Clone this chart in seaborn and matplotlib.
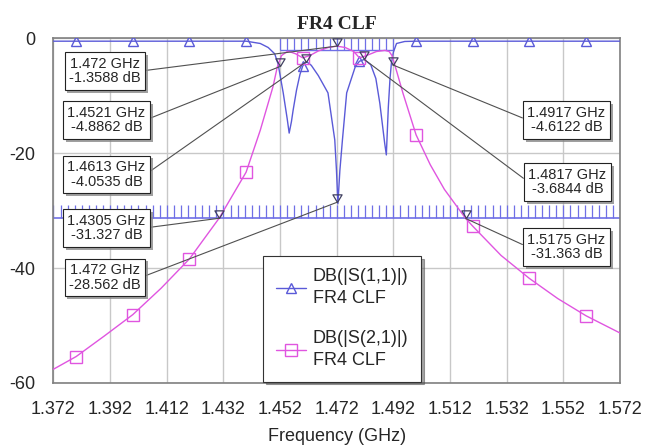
import numpy as np
import matplotlib
matplotlib.use("Agg")
import matplotlib.pyplot as plt
import matplotlib.patheffects as pe
from matplotlib.path import Path
import seaborn as sns

# ---------------- data ----------------
freq_s11 = [1.372, 1.380, 1.400, 1.420, 1.440, 1.4450, 1.4478, 1.4501, 1.4513, 1.4522,
            1.4531, 1.4545, 1.4552, 1.4560, 1.4566, 1.4578, 1.4590, 1.4600, 1.4613, 1.4630,
            1.4655, 1.4689, 1.4713, 1.4719, 1.4724, 1.4731, 1.4740, 1.4755, 1.4785, 1.4800,
            1.4817, 1.4840, 1.4858, 1.4872, 1.4889, 1.4895, 1.4902, 1.4908, 1.4913, 1.4920,
            1.4931, 1.4960, 1.500, 1.520, 1.540, 1.560, 1.572]
db_s11 = [-0.5, -0.5, -0.5, -0.5, -0.5, -0.9, -1.6, -2.7, -4.5, -7.0,
          -9.5, -14.0, -16.5, -14.5, -12.5, -9.0, -6.3, -4.8, -4.05, -4.7,
          -6.5, -9.5, -17.7, -23.0, -28.8, -23.0, -17.7, -9.5, -5.0, -4.0,
          -3.68, -4.6, -7.0, -11.3, -18.2, -20.3, -12.0, -7.0, -4.3, -2.4,
          -0.9, -0.55, -0.5, -0.5, -0.5, -0.5, -0.5]

freq_s21 = [1.372, 1.380, 1.390, 1.400, 1.410, 1.420, 1.4305, 1.440, 1.445, 1.4495,
            1.4510, 1.4525, 1.4545, 1.4552, 1.4575, 1.4600, 1.4625, 1.4655, 1.4690, 1.4720,
            1.4750, 1.4780, 1.4800, 1.4825, 1.4860, 1.4890, 1.4905, 1.4915, 1.4930, 1.4954,
            1.500, 1.505, 1.510, 1.5175, 1.520, 1.530, 1.540, 1.550, 1.560, 1.572]
db_s21 = [-57.6, -55.4, -51.8, -48.1, -43.5, -38.4, -31.3, -23.3, -16.0, -8.4,
          -5.0, -3.0, -2.3, -2.3, -2.7, -3.4, -3.0, -2.2, -1.6, -1.36,
          -1.6, -2.3, -3.4, -3.0, -2.3, -2.1, -2.3, -3.0, -5.5, -9.6,
          -16.8, -22.0, -26.3, -31.36, -32.7, -37.8, -41.8, -45.3, -48.3, -51.3]

marker_freqs = [1.38, 1.40, 1.42, 1.44, 1.46, 1.48, 1.50, 1.52, 1.54, 1.56]

series_names = ["DB(|S(1,1)|)\nFR4 CLF", "DB(|S(2,1)|)\nFR4 CLF"]

ann_freq = [1.472, 1.4521, 1.4613, 1.4305, 1.472, 1.4917, 1.4817, 1.5175]
ann_db = [-1.3588, -4.8862, -4.0535, -31.327, -28.562, -4.6122, -3.6844, -31.363]
ann_labels = ["1.472 GHz\n-1.3588 dB", "1.4521 GHz\n-4.8862 dB", "1.4613 GHz\n-4.0535 dB",
              "1.4305 GHz\n-31.327 dB", "1.472 GHz\n-28.562 dB", "1.4917 GHz\n-4.6122 dB",
              "1.4817 GHz\n-3.6844 dB", "1.5175 GHz\n-31.363 dB"]

passband_mask = [1.452, 1.492, -2.0]      # f_start, f_stop, level (dB)
stopband_mask = [1.372, 1.572, -31.35]    # f_start, f_stop, level (dB)

x_ticks = [1.372, 1.392, 1.412, 1.432, 1.452, 1.472, 1.492, 1.512, 1.532, 1.552, 1.572]
y_ticks = [0, -20, -40, -60]

# ---------------- style ----------------
sns.set_style("white")
plt.rcParams["font.family"] = ["Liberation Sans", "DejaVu Sans"]

c_s11 = "#5a5ad8"
c_s21 = "#e055e0"
c_mask = "#6f6fe6"

fig = plt.figure(figsize=(6.46, 4.46), dpi=100)
ax = fig.add_axes([0.0828, 0.1413, 0.8770, 0.7728])


def mark_idx(freqs):
    return [i for i, f in enumerate(freqs) if any(abs(f - m) < 1e-6 for m in marker_freqs)]


# masks
step = 0.0025
pb_x = np.arange(passband_mask[0], passband_mask[1] + 1e-9, step)
ax.vlines(pb_x, passband_mask[2], 0, color=c_mask, lw=0.9, zorder=2)
ax.hlines(passband_mask[2], passband_mask[0], passband_mask[1], color=c_mask, lw=1.0, zorder=2)
sb_x = np.arange(stopband_mask[0], stopband_mask[1] + 1e-9, step)
ax.vlines(sb_x, stopband_mask[2], stopband_mask[2] + 2.4, color=c_mask, lw=0.9, zorder=2)
ax.hlines(stopband_mask[2], stopband_mask[0], stopband_mask[1], color=c_mask, lw=1.2, zorder=2)

sns.lineplot(x=freq_s11, y=db_s11, ax=ax, color=c_s11, lw=1.0, marker="^",
             markevery=mark_idx(freq_s11), ms=7, mfc="none", mec=c_s11, mew=1.0,
             estimator=None, sort=False, label=series_names[0], zorder=3)
sns.lineplot(x=freq_s21, y=db_s21, ax=ax, color=c_s21, lw=1.0, marker="s",
             markevery=mark_idx(freq_s21), ms=8, mfc="none", mec=c_s21, mew=1.0,
             estimator=None, sort=False, label=series_names[1], zorder=3)

# marker tip symbols (inverted triangle with tip on point)
tip = Path([(0, 0), (-0.6, 1.0), (0.6, 1.0), (0, 0)],
           [Path.MOVETO, Path.LINETO, Path.LINETO, Path.CLOSEPOLY])
ax.plot(ann_freq, ann_db, ls="none", marker=tip, ms=11, mfc="none", mec="#404060",
        mew=0.9, zorder=5)

# annotation boxes
box_pos = [(0.0909, 0.905), (0.0936, 0.763), (0.0936, 0.605), (0.0936, 0.450),
           (0.0909, 0.306), (0.9056, 0.763), (0.9073, 0.583), (0.9056, 0.395)]
for f, d, lab, pos in zip(ann_freq, ann_db, ann_labels, box_pos):
    right_side = pos[0] > 0.5
    t = ax.annotate(lab, xy=(f, d), xycoords="data", xytext=pos, textcoords="axes fraction",
                    ha="center", va="center", fontsize=10.5, linespacing=1.05,
                    bbox=dict(boxstyle="square,pad=0.32", fc="white", ec="#222222", lw=0.8),
                    arrowprops=dict(arrowstyle="-", color="#505050", lw=0.8,
                                    relpos=(0.0, 0.5) if right_side else (1.0, 0.5),
                                    shrinkA=0, shrinkB=0),
                    zorder=6)
    t.get_bbox_patch().set_path_effects([pe.withSimplePatchShadow(offset=(2, -2),
                                                                  shadow_rgbFace="#888888",
                                                                  alpha=0.8)])

# axes formatting
ax.set_xlim(1.372, 1.572)
ax.set_ylim(-60, 0)
ax.set_xticks(x_ticks)
ax.set_xticklabels([f"{v:.3f}" for v in x_ticks])
ax.set_yticks(y_ticks)
ax.set_yticklabels([str(v) for v in y_ticks])
ax.tick_params(axis="both", length=0, labelsize=13)
ax.tick_params(axis="x", pad=13)
ax.tick_params(axis="y", pad=13)
ax.grid(True, color="#c8c8c8", lw=1.0)
for s in ax.spines.values():
    s.set_color("#808080")
    s.set_linewidth(1.2)
ax.set_xlabel("Frequency (GHz)", fontsize=13, labelpad=7)
ax.set_ylabel("")
ax.set_title("FR4 CLF", fontsize=14, fontweight="bold", family=["Liberation Serif", "DejaVu Serif"],
             pad=7)

leg = ax.legend(loc="lower left", bbox_to_anchor=(0.370, 0.004), borderaxespad=0,
                fontsize=13, frameon=True, fancybox=False, shadow=True, framealpha=1,
                edgecolor="#333333", handlelength=1.7, labelspacing=1.3,
                borderpad=0.7, handletextpad=0.35)
leg.get_frame().set_linewidth(0.8)
for txt in leg.get_texts():
    txt.set_linespacing(1.35)
leg.set_zorder(7)

fig.savefig("out.png", dpi=100)
